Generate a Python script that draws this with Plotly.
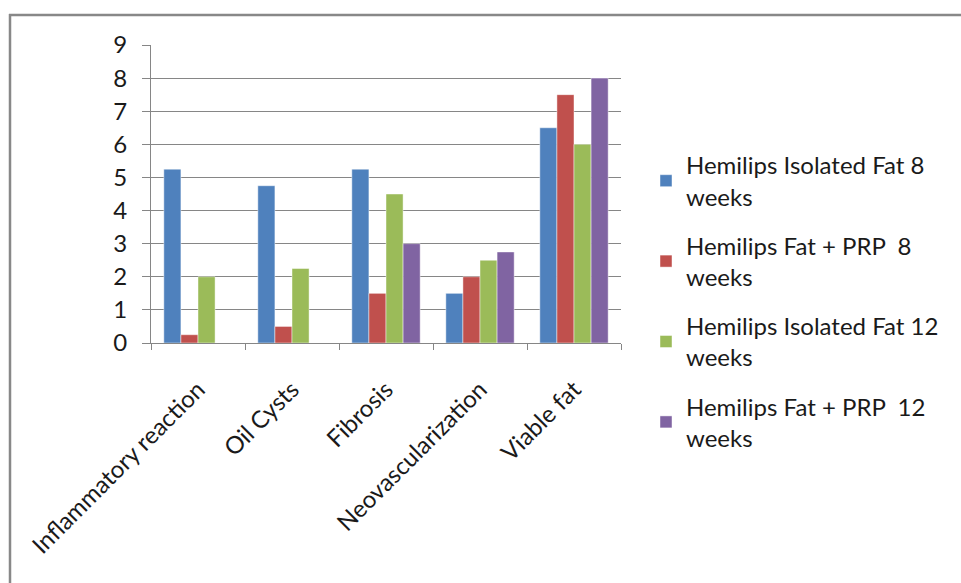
import plotly.graph_objects as go

categories = ["Inflammatory reaction", "Oil Cysts", "Fibrosis", "Neovascularization", "Viable fat"]
series_names = [
    "Hemilips Isolated Fat 8<br>weeks",
    "Hemilips Fat + PRP  8<br>weeks",
    "Hemilips Isolated Fat 12<br>weeks",
    "Hemilips Fat + PRP  12<br>weeks",
]
iso_8 = [5.25, 4.75, 5.25, 1.5, 6.5]
prp_8 = [0.25, 0.5, 1.5, 2.0, 7.5]
iso_12 = [2.0, 2.25, 4.5, 2.5, 6.0]
prp_12 = [0, 0, 3.0, 2.75, 8.0]
colors = ["#4F81BD", "#C0504D", "#9BBB59", "#8064A2"]
y_ticks = [0, 1, 2, 3, 4, 5, 6, 7, 8, 9]

W, H = 961, 583
L, R, T, B = 151, 340, 45, 240
pw, ph = W - L - R, H - T - B


def px_x(x):
    return (x - L) / pw


def px_y(y):
    return (H - B - y) / ph


FONT = "Lato, Calibri, Carlito, sans-serif"
TXT = "#1a1a1a"

fig = go.Figure()
for name, vals, col in zip(series_names, [iso_8, prp_8, iso_12, prp_12], colors):
    fig.add_trace(go.Bar(
        x=categories, y=vals, name=name, legendgroup=name,
        marker=dict(color=col, line=dict(color="rgba(255,255,255,0.45)", width=1)),
    ))

fig.update_layout(
    width=W, height=H,
    margin=dict(l=L, r=R, t=T, b=B),
    paper_bgcolor="white", plot_bgcolor="white",
    barmode="group", bargap=0.273, bargroupgap=0,
    font=dict(family=FONT, size=24, color=TXT),
    showlegend=True,
    legend=dict(
        x=px_x(646), y=px_y(143), xanchor="left", yanchor="top",
        font=dict(family=FONT, size=24, color=TXT),
        tracegroupgap=15, bgcolor="rgba(0,0,0,0)", maxheight=500,
    ),
    xaxis=dict(
        type="category", showline=True, linecolor="#868686", linewidth=1,
        ticks="outside", tickson="boundaries", ticklen=6, tickcolor="#868686",
        tickangle=-45, showgrid=False, ticklabelstandoff=22,
        tickfont=dict(family=FONT, size=24, color=TXT),
    ),
    yaxis=dict(
        range=[0, 9], tickvals=y_ticks, showgrid=True, gridcolor="#868686", gridwidth=1,
        showline=True, linecolor="#868686", linewidth=1, zeroline=False,
        ticks="outside", ticklen=8, tickcolor="#868686", ticklabelstandoff=10,
        tickfont=dict(family=FONT, size=24, color=TXT),
    ),
    shapes=[
        dict(type="line", xref="paper", yref="paper", x0=px_x(9), x1=px_x(975),
             y0=px_y(15), y1=px_y(15), line=dict(color="#888888", width=2.5)),
        dict(type="line", xref="paper", yref="paper", x0=px_x(10), x1=px_x(10),
             y0=px_y(14), y1=px_y(600), line=dict(color="#888888", width=2.5)),
    ],
)

fig.write_html("out.html")
